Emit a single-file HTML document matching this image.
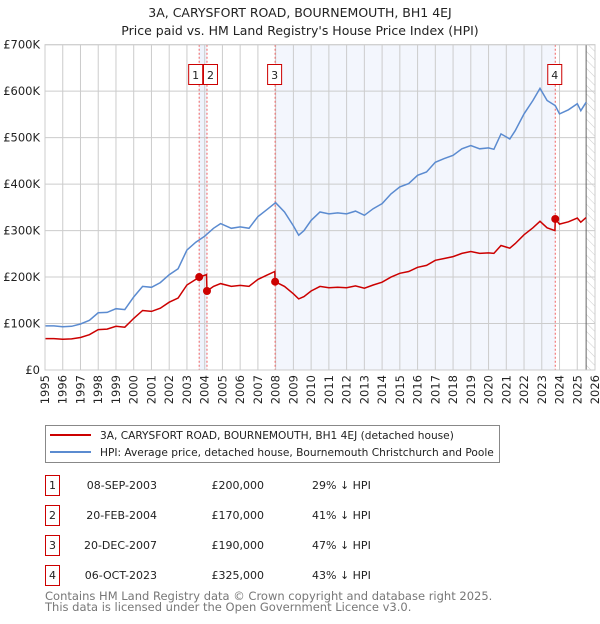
<!DOCTYPE html>
<html><head><meta charset="utf-8">
<style>
body{margin:0;background:#fff;font-family:"DejaVu Sans","Liberation Sans",sans-serif;}
svg text{font-family:"DejaVu Sans","Liberation Sans",sans-serif;}
</style></head>
<body>
<svg id="chart" width="600" height="620" viewBox="0 0 600 620" xmlns="http://www.w3.org/2000/svg">
<defs>
<pattern id="hatch" width="6" height="6" patternUnits="userSpaceOnUse" patternTransform="rotate(-45)">
<line x1="0" y1="0" x2="0" y2="6" stroke="#ccc" stroke-width="1"/>
</pattern>
</defs>
<text x="300" y="17" text-anchor="middle" font-size="12.5" fill="#222">3A, CARYSFORT ROAD, BOURNEMOUTH, BH1 4EJ</text>
<text x="300" y="35" text-anchor="middle" font-size="12.5" fill="#222">Price paid vs. HM Land Registry's House Price Index (HPI)</text>
<g id="plot"></g>
<g>
<rect x="45.5" y="425.5" width="454" height="37" fill="#fff" stroke="#888"/>
<line x1="50" y1="435" x2="91" y2="435" stroke="#cc0000" stroke-width="2"/>
<text x="100" y="439" font-size="10.6" fill="#222">3A, CARYSFORT ROAD, BOURNEMOUTH, BH1 4EJ (detached house)</text>
<line x1="50" y1="452" x2="91" y2="452" stroke="#5b8bd0" stroke-width="2"/>
<text x="100" y="456" font-size="10.6" fill="#222">HPI: Average price, detached house, Bournemouth Christchurch and Poole</text>
</g>
<g id="table"></g>
<text x="45" y="600" font-size="11.5" fill="#777">Contains HM Land Registry data © Crown copyright and database right 2025.</text>
<text x="45" y="611" font-size="11.5" fill="#777">This data is licensed under the Open Government Licence v3.0.</text>
</svg>
<script>
const hpiYears=[1995,1995.5,1996,1996.5,1997,1997.5,1998,1998.5,1999,1999.5,2000,2000.5,2001,2001.5,2002,2002.5,2003,2003.5,2004,2004.5,2004.9,2005.5,2006,2006.5,2007,2007.5,2008,2008.5,2009,2009.3,2009.6,2010,2010.5,2011,2011.5,2012,2012.5,2013,2013.5,2014,2014.5,2015,2015.5,2016,2016.5,2017,2017.5,2018,2018.5,2019,2019.5,2020,2020.3,2020.7,2021.2,2021.5,2022,2022.5,2022.9,2023.3,2023.76,2024,2024.5,2025,2025.2,2025.5];
const hpiValues=[95,95,93,94,99,107,123,124,132,130,157,180,178,188,205,218,258,275,288,305,315,305,308,305,330,345,360,340,310,290,300,322,340,336,338,336,342,333,347,358,379,394,401,419,426,447,455,462,476,483,476,478,475,508,497,515,551,580,606,580,569,551,560,573,558,576];
const redYears=[1995,1995.5,1996,1996.5,1997,1997.5,1998,1998.5,1999,1999.5,2000,2000.5,2001,2001.5,2002,2002.5,2003,2003.5,2003.69,2004.1,2004.13,2004.5,2004.9,2005.5,2006,2006.5,2007,2007.5,2007.95,2007.97,2008.5,2009,2009.3,2009.6,2010,2010.5,2011,2011.5,2012,2012.5,2013,2013.5,2014,2014.5,2015,2015.5,2016,2016.5,2017,2017.5,2018,2018.5,2019,2019.5,2020,2020.3,2020.7,2021.2,2021.5,2022,2022.5,2022.9,2023.3,2023.74,2023.76,2024,2024.5,2025,2025.2,2025.5];
const redValues=[67.5,67.5,66,67,70,76,87,88,94,92,111,128,126,133,146,155,183,195,200,205,170,180,186,180,182,180,195,204,212,190,180,164,153,158,170,180,177,178,177,181,176,183,189,200,208,212,221,225,236,240,244,251,255,251,252,251,268,262,272,291,306,320,306,300,325,314,319,327,318,328];
const saleNums=["1","2","3","4"];
const saleYears=[2003.69,2004.13,2007.97,2023.76];
const salePrices=[200,170,190,325];
const saleDates=["08-SEP-2003","20-FEB-2004","20-DEC-2007","06-OCT-2023"];
const salePriceLabels=["£200,000","£170,000","£190,000","£325,000"];
const saleDiffs=["29% ↓ HPI","41% ↓ HPI","47% ↓ HPI","43% ↓ HPI"];
const yTicks=[0,100,200,300,400,500,600,700];
const yTickLabels=["£0","£100K","£200K","£300K","£400K","£500K","£600K","£700K"];
const xTicks=[1995,1996,1997,1998,1999,2000,2001,2002,2003,2004,2005,2006,2007,2008,2009,2010,2011,2012,2013,2014,2015,2016,2017,2018,2019,2020,2021,2022,2023,2024,2025,2026];

const NS="http://www.w3.org/2000/svg";
const L=45,R=595,T=44.7,B=370;
const x=v=>L+(v-1995)/(2026-1995)*(R-L);
const y=v=>B-v/700*(B-T);
const plot=document.getElementById('plot');
function mk(tag,attrs,parent){const e=document.createElementNS(NS,tag);for(const k in attrs)e.setAttribute(k,attrs[k]);(parent||plot).appendChild(e);return e;}

let s=mk('rect',{x:x(saleYears[0]),y:T,width:x(saleYears[1])-x(saleYears[0]),height:B-T,fill:'#eef3fc'});


s=mk('rect',{x:x(saleYears[2]),y:T,width:x(saleYears[3])-x(saleYears[2]),height:B-T,fill:'#f3f6fd'});


s=mk('rect',{x:x(2025.5),y:T,width:R-x(2025.5),height:B-T,fill:'url(#hatch)'});



xTicks.forEach((t,i)=>{
 const g=mk('line',{x1:x(t),x2:x(t),y1:T,y2:B,stroke:'#ccc','stroke-width':1});
 
 
 const tx=mk('text',{x:0,y:0,transform:`translate(${x(t)+4},${B+5}) rotate(-90)`,'text-anchor':'end','font-size':'11.5',fill:'#222'});
 tx.textContent=t;
 
 
});
yTicks.forEach((t,i)=>{
 const g=mk('line',{x1:L,x2:R,y1:y(t),y2:y(t),stroke:'#ccc','stroke-width':1});
 
 
 const tx=mk('text',{x:L-5,y:y(t)+4,'text-anchor':'end','font-size':'11.5',fill:'#222'});
 tx.textContent=yTickLabels[i];
 
 
});
const nowL=mk('line',{x1:x(2025.5),x2:x(2025.5),y1:T,y2:B,stroke:'#666','stroke-width':1});



saleYears.forEach((sy,i)=>{
 const v=mk('line',{x1:x(sy),x2:x(sy),y1:T,y2:B,stroke:'#f06060','stroke-width':1,'stroke-dasharray':'2,2'});
 
 
});

const hp=mk('path',{d:hpiYears.map((t,i)=>(i?'L':'M')+x(t).toFixed(1)+','+y(hpiValues[i]).toFixed(1)).join(''),fill:'none',stroke:'#5b8bd0','stroke-width':1.5});


const rp=mk('path',{d:redYears.map((t,i)=>(i?'L':'M')+x(t).toFixed(1)+','+y(redValues[i]).toFixed(1)).join(''),fill:'none',stroke:'#cc0000','stroke-width':1.5});



saleYears.forEach((sy,i)=>{
 const c=mk('circle',{cx:x(sy),cy:y(salePrices[i]),r:4,fill:'#cc0000'});
 
 
 const bx=[-10,-3,-7,-7][i];
 const r=mk('rect',{x:x(sy)+bx-0.5,y:64.5,width:14,height:20,fill:'#fff',stroke:'#cc0000'});
 
 
 const t=mk('text',{x:x(sy)+bx+6.5,y:79,'text-anchor':'middle','font-size':'11',fill:'#222'});
 t.textContent=saleNums[i];
 
 
});
const frame=mk('rect',{x:L,y:T,width:R-L,height:B-T,fill:'none',stroke:'#ccc'});



const tb=document.getElementById('table');
saleNums.forEach((n,i)=>{
 const yy=475+i*30;
 const r=mk('rect',{x:45.5,y:yy+0.5,width:14,height:20,fill:'#fff',stroke:'#cc0000'},tb);
 
 
 const cells=[[52.5,'middle',n],[157,'end',saleDates[i]],[264,'end',salePriceLabels[i]],[312,'start',saleDiffs[i]]];
 cells.forEach(c=>{
  const t=mk('text',{x:c[0],y:yy+14,'text-anchor':c[1],'font-size':'11',fill:'#222'},tb);
  t.textContent=c[2];
  
  
 });
});
</script>
</body></html>
